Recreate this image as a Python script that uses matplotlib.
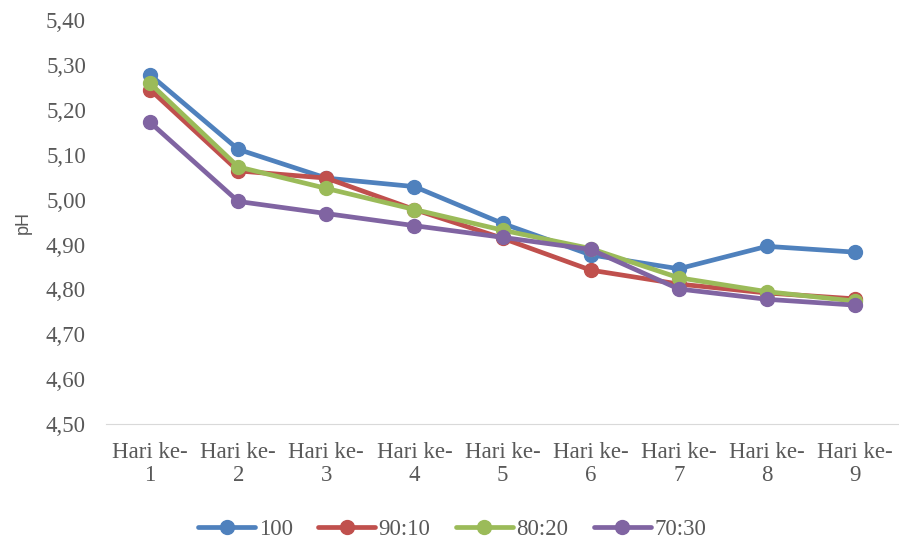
import matplotlib.pyplot as plt
from matplotlib.ticker import FuncFormatter

plt.rcParams['font.family'] = ['Liberation Serif', 'DejaVu Serif']

days = ["Hari ke-\n1", "Hari ke-\n2", "Hari ke-\n3", "Hari ke-\n4", "Hari ke-\n5",
        "Hari ke-\n6", "Hari ke-\n7", "Hari ke-\n8", "Hari ke-\n9"]
ph_100 = [5.278, 5.112, 5.048, 5.029, 4.947, 4.877, 4.846, 4.896, 4.883]
ph_90_10 = [5.245, 5.064, 5.048, 4.978, 4.914, 4.843, 4.812, 4.792, 4.779]
ph_80_20 = [5.259, 5.073, 5.025, 4.978, 4.932, 4.891, 4.826, 4.795, 4.774]
ph_70_30 = [5.172, 4.996, 4.969, 4.942, 4.916, 4.889, 4.801, 4.778, 4.765]

series = [("100", ph_100, "#4F81BD"),
          ("90:10", ph_90_10, "#C0504D"),
          ("80:20", ph_80_20, "#9BBB59"),
          ("70:30", ph_70_30, "#8064A2")]

fig = plt.figure(figsize=(8.99, 5.43), dpi=100)
ax = fig.add_axes([0.118, 0.219, 0.882, 0.744])

x = range(len(days))
for name, vals, col in series:
    ax.plot(x, vals, color=col, lw=3.4, marker="o", markersize=10, label=name,
            solid_capstyle="round")

ax.set_xlim(-0.5, len(days) - 0.5)
ax.set_ylim(4.5, 5.4)
ax.set_yticks([4.5 + 0.1 * i for i in range(10)])
ax.yaxis.set_major_formatter(FuncFormatter(lambda v, p: f"{v:.2f}".replace(".", ",")))
ax.set_xticks(list(x))
ax.set_xticklabels(days, linespacing=1.1)

for s in ["top", "right", "left"]:
    ax.spines[s].set_visible(False)
ax.spines["bottom"].set_color("#D9D9D9")
ax.tick_params(axis="both", length=0, colors="#595959", labelsize=16.5)
ax.tick_params(axis="y", pad=14.5)
ax.tick_params(axis="x", pad=13)

ax.set_ylabel("pH", family=["Liberation Sans", "DejaVu Sans"], fontsize=13,
              color="#595959", labelpad=10)

fig.legend(loc="lower center", bbox_to_anchor=(0.503, -0.032), ncol=4, frameon=False,
           fontsize=16.5, handlelength=2.5, handletextpad=0.15, columnspacing=1.1,
           labelcolor="#595959")

fig.savefig("out.png", dpi=100)
